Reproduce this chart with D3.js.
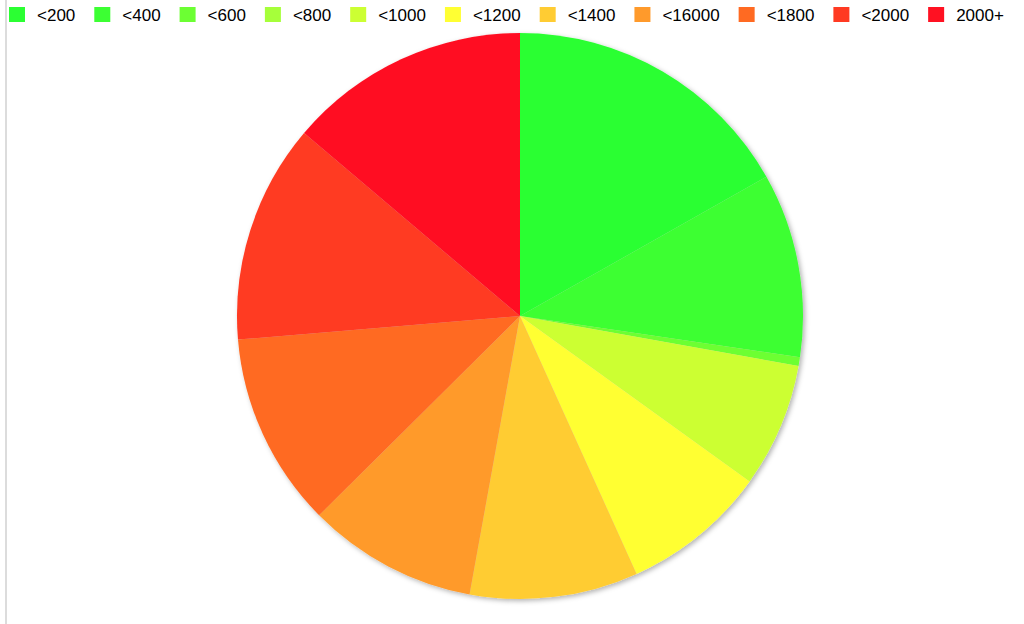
<!DOCTYPE html>
<html>
<head>
<meta charset="utf-8">
<script src="https://cdn.jsdelivr.net/npm/d3@7"></script>
<style>
  body { margin: 0; background: #fff; }
  #chart { width: 1024px; height: 624px; }
</style>
</head>
<body>
<div id="chart"></div>
<script>
// data
const categories = ["<200", "<400", "<600", "<800", "<1000", "<1200", "<1400", "<16000", "<1800", "<2000", "2000+"];
const counts = [168, 105, 5, 0, 71, 83, 96, 97, 111, 125, 138];
const colors = ["#2bff33", "#3cff33", "#6cff33", "#a6ff3a", "#ccff33", "#ffff33", "#ffcc33", "#ff9a2b", "#ff6a22", "#ff3a22", "#ff1122"];

const width = 1024, height = 624;
const radius = 283;
const cx = 520, cy = 316;

var svg = d3.select("#chart")
  .append("svg")
    .attr("width", width)
    .attr("height", height);

// soft shadow under the pie
var defs = svg.append("defs");
var filter = defs.append("filter")
  .attr("id", "shadow")
  .attr("x", "-10%").attr("y", "-10%")
  .attr("width", "120%").attr("height", "120%");
filter.append("feDropShadow")
  .attr("dx", 2).attr("dy", 2)
  .attr("stdDeviation", 2.5)
  .attr("flood-color", "#000")
  .attr("flood-opacity", 0.3);

// left border line
svg.append("rect")
  .attr("x", 5).attr("y", 0)
  .attr("width", 2).attr("height", height)
  .attr("fill", "#dcdcdc");

var color = d3.scaleOrdinal().domain(categories).range(colors);

var pie = d3.pie().sort(null).value(d => d.value);
var arc = d3.arc().innerRadius(0).outerRadius(radius);

var data = categories.map((c, i) => ({key: c, value: counts[i]}));

var g = svg.append("g")
  .attr("transform", `translate(${cx}, ${cy})`)
  .attr("filter", "url(#shadow)");

g.selectAll("path")
  .data(pie(data))
  .enter()
  .append("path")
    .attr("d", arc)
    .style("fill", d => color(d.data.key));

// legend, laid out left to right by text width
var legend = svg.append("g")
  .attr("font-family", "'Liberation Sans', Arial, Helvetica, sans-serif")
  .attr("font-size", 17);

var x = 9;
categories.forEach(function(c) {
  var item = legend.append("g").attr("transform", `translate(${x}, 0)`);
  item.append("rect")
    .attr("x", 0).attr("y", 7)
    .attr("width", 16).attr("height", 15)
    .attr("fill", color(c));
  var t = item.append("text")
    .attr("x", 28).attr("y", 21)
    .attr("fill", "#000")
    .text(c);
  x += 28 + t.node().getComputedTextLength() + 19;
});
</script>
</body>
</html>
